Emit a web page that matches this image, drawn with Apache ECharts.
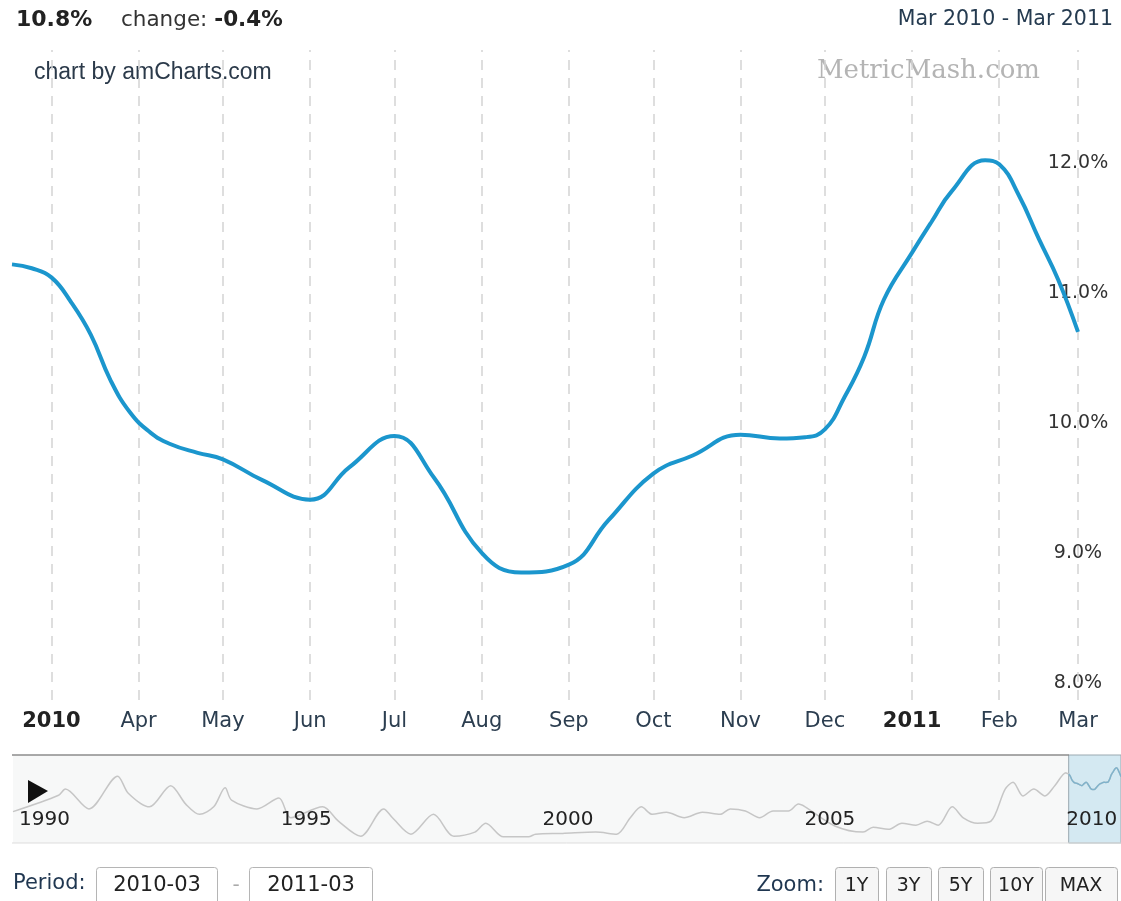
<!DOCTYPE html>
<html><head><meta charset="utf-8">
<script src="https://cdn.jsdelivr.net/npm/echarts@6/dist/echarts.min.js"></script>
<style>html,body{margin:0;padding:0;background:#fff;}#c{width:1121px;height:901px;}</style>
</head><body><div id="c"></div>
<script>
// ---------- data ----------
const mainDates = ['2010-02-15','2010-02-22','2010-03-01','2010-03-08','2010-03-15','2010-03-22','2010-03-29','2010-04-05','2010-04-12','2010-04-22','2010-05-01','2010-05-15','2010-06-01','2010-06-15','2010-07-01','2010-07-15','2010-08-01','2010-08-15','2010-09-01','2010-09-15','2010-10-01','2010-10-15','2010-11-01','2010-11-15','2010-11-24','2010-12-01','2010-12-08','2010-12-15','2010-12-22','2011-01-01','2011-01-08','2011-01-15','2011-01-27','2011-02-01','2011-02-08','2011-02-15','2011-02-22','2011-03-01'];
const mainValues = [11.22,11.19,11.12,10.93,10.68,10.33,10.08,9.93,9.84,9.77,9.72,9.56,9.41,9.66,9.90,9.58,9.00,8.85,8.91,9.25,9.61,9.75,9.91,9.88,9.89,9.95,10.20,10.51,10.95,11.31,11.55,11.78,12.02,11.99,11.75,11.42,11.10,10.70];
const xTickDates = ['2010-03-01','2010-04-01','2010-05-01','2010-06-01','2010-07-01','2010-08-01','2010-09-01','2010-10-01','2010-11-01','2010-12-01','2011-01-01','2011-02-01','2011-03-01'];
const xTickLabels = ['2010','Apr','May','Jun','Jul','Aug','Sep','Oct','Nov','Dec','2011','Feb','Mar'];
const yTickValues = [8,9,10,11,12];
const navDates = ['1990-01-01','1990-11-15','1991-01-01','1991-06-15','1992-01-01','1992-03-15','1992-08-10','1993-01-05','1993-04-20','1993-07-25','1993-11-01','1994-01-20','1994-03-05','1994-08-30','1995-01-30','1995-04-22','1995-12-01','1996-03-20','1996-08-22','1997-01-30','1997-04-01','1997-08-08','1998-01-12','1998-06-03','1998-10-28','1999-01-12','1999-05-15','1999-11-07','1999-12-25','2000-07-01','2001-02-17','2001-07-13','2001-10-16','2002-01-01','2002-03-18','2002-06-25','2002-10-27','2003-03-03','2003-07-05','2003-09-13','2003-12-28','2004-04-05','2004-07-08','2004-10-23','2005-01-01','2005-02-17','2005-09-12','2006-03-28','2006-06-06','2006-09-20','2006-12-24','2007-04-01','2007-06-18','2007-09-03','2007-12-10','2008-02-25','2008-06-03','2008-09-05','2008-12-13','2009-02-06','2009-04-16','2009-07-01','2009-09-16','2009-11-24','2010-02-10'];
const navValues = [5.6,8.0,8.9,6.0,10.8,8.3,6.3,9.4,6.7,5.2,6.3,9.1,7.3,6.0,7.6,4.7,6.3,4.2,2.0,6.0,4.7,2.3,5.2,2.0,2.6,3.9,1.9,1.9,2.3,2.4,2.6,2.3,4.7,6.3,5.2,5.5,4.7,5.5,5.2,6.0,5.7,4.7,5.7,5.7,6.7,6.3,3.5,2.6,3.3,3.0,3.9,3.6,4.2,3.6,6.3,4.7,3.9,4.2,8.9,9.9,7.9,8.9,7.9,9.4,11.3];
const navYearDates = ['1990-01-01','1995-01-01','2000-01-01','2005-01-01','2010-01-01'];
const navYearLabels = ['1990','1995','2000','2005','2010'];
const selectionRange = ['2010-03-01','2011-03-01'];
const headerValue = '10.8%';
const headerChange = '-0.4%';
const rangeText = 'Mar 2010 - Mar 2011';
const periodFrom = '2010-03';
const periodTo = '2011-03';
const zoomButtons = ['1Y','3Y','5Y','10Y','MAX'];

// ---------- helpers ----------
const FONT = 'DejaVu Sans';
const ts = s => { const p = s.split('-').map(Number); return new Date(p[0], p[1]-1, p[2]||1).getTime(); };
const mainData = mainDates.map((d,i)=>[ts(d), mainValues[i]]);
const navData = navDates.map((d,i)=>[ts(d), navValues[i]]).concat(mainData);
const selData = mainData.filter(p => p[0] >= ts(selectionRange[0]));
const xTickTs = xTickDates.map(ts);
const navYearTs = navYearDates.map(ts);
const findIdx = (arr, v) => arr.findIndex(t => Math.abs(t - v) < 43200000);

const chart = echarts.init(document.getElementById('c'), null, {renderer:'canvas'});

const graphics = [];
graphics.push({type:'text', left:16, top:9, style:{text:headerValue, font:'bold 22px "'+FONT+'"', fill:'#222'}});
graphics.push({type:'text', left:121, top:9, style:{text:'{n|change: }{b|'+headerChange+'}', rich:{n:{fontFamily:FONT,fontSize:21.5,fill:'#333'}, b:{fontFamily:FONT,fontSize:21.5,fontWeight:'bold',fill:'#222'}}}});
graphics.push({type:'text', left:34, top:61, style:{text:'chart by amCharts.com', font:'23px "Liberation Sans"', fill:'#2b3a4a'}});
graphics.push({type:'text', right:8, top:9, style:{text:rangeText, font:'20.5px "'+FONT+'"', fill:'#253b50'}});
graphics.push({type:'text', right:81, top:58, style:{text:'MetricMash.com', font:'26px "DejaVu Serif"', fill:'#b4b4b4'}});
graphics.push({type:'line', shape:{x1:12,y1:755,x2:1069,y2:755}, style:{stroke:'#8c8c8c', lineWidth:1.5}, z:10});
graphics.push({type:'line', shape:{x1:12,y1:843,x2:1121,y2:843}, style:{stroke:'#dddddd', lineWidth:1}, z:10});
graphics.push({type:'polygon', shape:{points:[[28,780],[48,791],[28,803]]}, style:{fill:'#111'}, z:20});
graphics.push({type:'text', left:13, top:873, style:{text:'Period:', font:'21px "'+FONT+'"', fill:'#1f3650'}});
graphics.push({type:'rect', shape:{x:96.5,y:867.5,width:121,height:50,r:3}, style:{fill:'#fff', stroke:'#b5b5b5', lineWidth:1}});
graphics.push({type:'text', x:157, y:886, style:{text:periodFrom, font:'21px "'+FONT+'"', fill:'#222', align:'center', verticalAlign:'middle'}});
graphics.push({type:'text', x:236, y:886, style:{text:'-', font:'20px "'+FONT+'"', fill:'#aaa', align:'center', verticalAlign:'middle'}});
graphics.push({type:'rect', shape:{x:249.5,y:867.5,width:123,height:50,r:3}, style:{fill:'#fff', stroke:'#b5b5b5', lineWidth:1}});
graphics.push({type:'text', x:311, y:886, style:{text:periodTo, font:'21px "'+FONT+'"', fill:'#222', align:'center', verticalAlign:'middle'}});
graphics.push({type:'text', x:824, y:886, style:{text:'Zoom:', font:'21px "'+FONT+'"', fill:'#1f3650', align:'right', verticalAlign:'middle'}});
const btnX = [[835,878],[886,931],[938,983],[990,1042],[1045,1117]];
zoomButtons.forEach((b,i)=>{
  const [a,c] = btnX[i];
  graphics.push({type:'rect', shape:{x:a+0.5,y:867.5,width:c-a,height:50,r:3}, style:{fill:'#f6f6f6', stroke:'#b0b0b0', lineWidth:1}});
  graphics.push({type:'text', x:(a+c)/2, y:886, style:{text:b, font:'19px "'+FONT+'"', fill:'#222', align:'center', verticalAlign:'middle'}});
});

const option = {
  animation:false,
  backgroundColor:'#fff',
  grid:[
    {left:12, right:43, top:50, height:650},
    {left:13, right:0, top:755, height:88, show:true, backgroundColor:'#f7f8f8', borderWidth:0}
  ],
  xAxis:[
    {type:'value', gridIndex:0, min:ts('2010-02-15'), max:ts('2011-03-01'), scale:true,
     axisLine:{show:false}, axisTick:{show:false}, splitLine:{show:false},
     axisLabel:{customValues:xTickTs, margin:11, fontSize:21, fontFamily:FONT, color:'#2c3e50',
       formatter:function(v){const i=findIdx(xTickTs,v); if(i<0) return ''; const s=xTickLabels[i]; return /^\d{4}$/.test(s)?'{b|'+s+'}':s;},
       rich:{b:{fontWeight:'bold', fontSize:21, fontFamily:FONT, color:'#222'}}}},
    {type:'value', gridIndex:1, min:ts('1990-01-01'), max:ts('2011-03-01'), scale:true, z:20,
     axisLine:{show:false}, axisTick:{show:false}, splitLine:{show:false},
     axisLabel:{customValues:navYearTs, inside:true, margin:23, align:'left', verticalAlign:'middle', padding:[0,0,0,6],
       fontSize:20, fontFamily:FONT, color:'#222',
       formatter:function(v){const i=findIdx(navYearTs,v); return i<0?'':navYearLabels[i];}}}
  ],
  yAxis:[
    {type:'value', gridIndex:0, position:'right', min:7.869, max:12.869,
     axisLine:{show:false}, axisTick:{show:false}, splitLine:{show:false},
     axisLabel:{customValues:yTickValues, align:'center', margin:0, fontSize:19, fontFamily:FONT, color:'#333',
       formatter:v=>v.toFixed(1)+'%'}},
    {type:'value', gridIndex:1, min:1, max:13.9, show:false}
  ],
  series:[
    {type:'line', xAxisIndex:0, yAxisIndex:0, data:mainData, smooth:0.45, smoothConstraint:false, symbol:'none',
     lineStyle:{color:'#1b96cd', width:4}, z:3,
     markLine:{silent:true, z:1, symbol:['none','none'], label:{show:false},
       lineStyle:{type:[10,8], color:'#d4d4d4', width:1.5},
       data:xTickTs.map(t=>({xAxis:t}))}},
    {type:'line', xAxisIndex:1, yAxisIndex:1, data:navData, smooth:0.3, symbol:'none',
     lineStyle:{color:'#c6c6c6', width:1.5}, z:2},
    {type:'line', xAxisIndex:1, yAxisIndex:1, data:selData, smooth:0.3, symbol:'none',
     lineStyle:{color:'#7fb3cc', width:1.5}, z:3,
     markArea:{silent:true, z:1, itemStyle:{color:'#d4e9f2', borderColor:'#9aa9b0', borderWidth:1},
       data:[[{xAxis:ts(selectionRange[0])},{xAxis:ts(selectionRange[1])}]]}}
  ],
  graphic:graphics
};
chart.setOption(option);
</script></body></html>
